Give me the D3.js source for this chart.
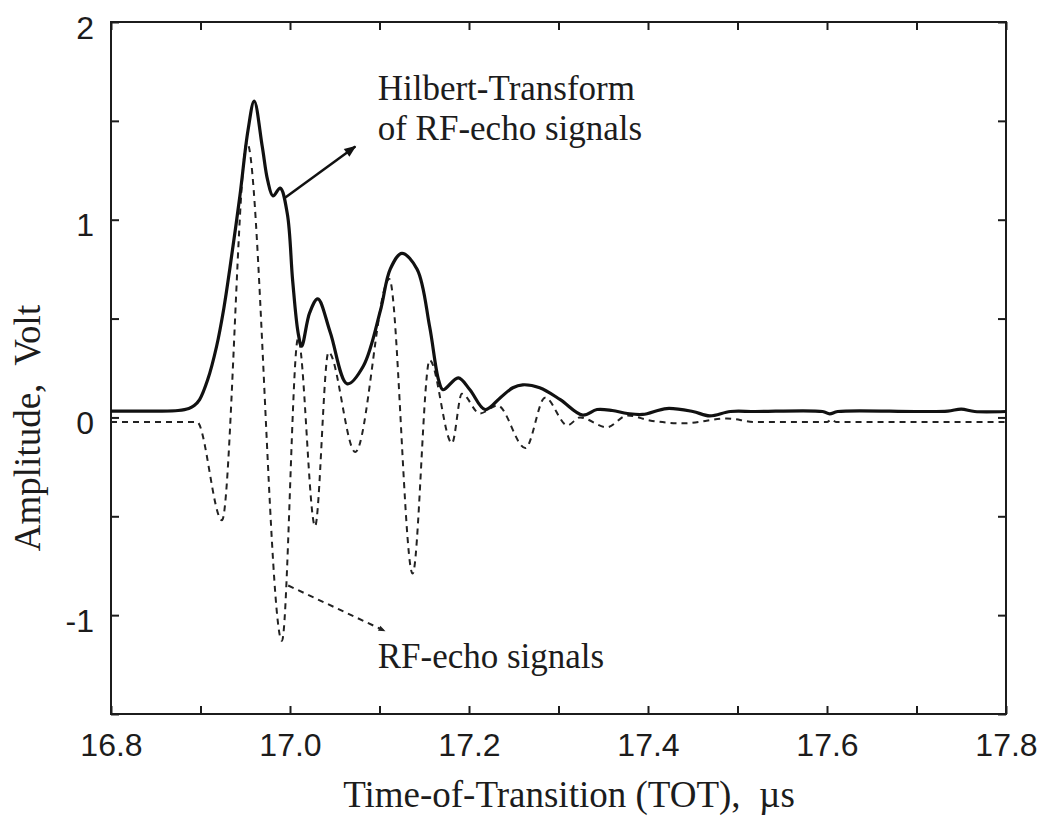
<!DOCTYPE html>
<html>
<head>
<meta charset="utf-8">
<script src="https://cdn.jsdelivr.net/npm/d3@7"></script>
<style>
  body { margin: 0; background: #fff; }
  svg { display: block; }
  text { white-space: pre; }
</style>
</head>
<body>
<div id="chart"></div>
<script>
// Hilbert transform envelope (solid line), time in µs / amplitude in V
const hilbertTime = [16.80, 16.85, 16.875, 16.887, 16.893, 16.899, 16.908, 16.918, 16.926, 16.933, 16.944, 16.953, 16.960,
  16.969, 16.975, 16.981, 16.989, 16.997, 17.003, 17.009, 17.013, 17.022, 17.031, 17.045, 17.064, 17.082, 17.101,
  17.112, 17.125, 17.142, 17.156, 17.166, 17.171, 17.188, 17.201, 17.218, 17.235, 17.249, 17.260, 17.279, 17.302,
  17.327, 17.343, 17.360, 17.377, 17.394, 17.421, 17.450, 17.469, 17.492, 17.52, 17.595, 17.603, 17.612, 17.70,
  17.735, 17.75, 17.765, 17.80];
const hilbertAmp = [0.032, 0.032, 0.035, 0.045, 0.06, 0.09, 0.19, 0.36, 0.55, 0.76, 1.12, 1.45, 1.60,
  1.37, 1.20, 1.12, 1.16, 1.03, 0.69, 0.43, 0.36, 0.53, 0.60, 0.43, 0.17, 0.26, 0.54,
  0.75, 0.83, 0.75, 0.46, 0.19, 0.14, 0.20, 0.14, 0.04, 0.10, 0.15, 0.165, 0.15, 0.09,
  0.012, 0.04, 0.035, 0.02, 0.015, 0.045, 0.03, 0.008, 0.03, 0.03, 0.03, 0.018, 0.03, 0.03,
  0.032, 0.042, 0.03, 0.03];

// RF echo signal (dashed line), read at its turning points
const rfTime = [16.80, 16.896, 16.924, 16.952, 16.991, 17.009, 17.028, 17.043, 17.073, 17.111, 17.137, 17.156,
  17.181, 17.192, 17.212, 17.232, 17.263, 17.285, 17.31, 17.324, 17.354, 17.377, 17.402, 17.44, 17.488,
  17.52, 17.60, 17.605, 17.61, 17.80];
const rfAmp = [-0.023, -0.023, -0.52, 1.39, -1.13, 0.40, -0.55, 0.33, -0.175, 0.70, -0.79, 0.29,
  -0.13, 0.12, 0.02, 0.06, -0.155, 0.10, -0.04, 0.0, -0.05, 0.01, -0.015, -0.03, -0.005,
  -0.023, -0.023, -0.01, -0.023, -0.023];

const xTicks = [16.8, 16.9, 17.0, 17.1, 17.2, 17.3, 17.4, 17.5, 17.6, 17.7, 17.8];
const xTickLabels = ["16.8", "", "17.0", "", "17.2", "", "17.4", "", "17.6", "", "17.8"];
const yTicks = [-1.5, -1, -0.5, 0, 0.5, 1, 1.5, 2];
const yTickLabels = ["", "-1", "", "0", "", "1", "", "2"];

const width = 1048, height = 817;
const margin = { top: 22, right: 42, bottom: 103, left: 111 };

const svg = d3.select("#chart").append("svg")
  .attr("width", width)
  .attr("height", height);

svg.append("rect").attr("width", width).attr("height", height).attr("fill", "#fff");

const x = d3.scaleLinear().domain([16.8, 17.8]).range([margin.left, width - margin.right]);
const y = d3.scaleLinear().domain([-1.5, 2]).range([height - margin.bottom, margin.top]);

const sans = "'Liberation Sans', Arial, Helvetica, sans-serif";
const serif = "'Liberation Serif', 'Times New Roman', Times, serif";
const ink = "#1c1c1c";

// axes, ticks pointing inward on all four sides
const axisB = svg.append("g")
  .attr("transform", `translate(0,${y.range()[0]})`)
  .call(d3.axisBottom(x).tickValues(xTicks).tickSize(-8).tickPadding(19)
    .tickFormat((d, i) => xTickLabels[i]));
const axisT = svg.append("g")
  .attr("transform", `translate(0,${y.range()[1]})`)
  .call(d3.axisTop(x).tickValues(xTicks).tickSize(-8).tickFormat(""));
const axisL = svg.append("g")
  .attr("transform", `translate(${x.range()[0]},0)`)
  .call(d3.axisLeft(y).tickValues(yTicks).tickSize(-8).tickPadding(17)
    .tickFormat((d, i) => yTickLabels[i]));
const axisR = svg.append("g")
  .attr("transform", `translate(${x.range()[1]},0)`)
  .call(d3.axisRight(y).tickValues(yTicks).tickSize(-8).tickFormat(""));

[axisB, axisT, axisL, axisR].forEach(g => {
  g.select(".domain").remove();
  g.selectAll(".tick line").attr("stroke", ink).attr("stroke-width", 2);
  g.selectAll("text").attr("fill", ink).style("font-family", sans).style("font-size", "32px");
});
axisL.selectAll("text").attr("dy", "0.5em");

// frame
svg.append("rect")
  .attr("x", x.range()[0])
  .attr("y", y.range()[1])
  .attr("width", x.range()[1] - x.range()[0])
  .attr("height", y.range()[0] - y.range()[1])
  .attr("fill", "none")
  .attr("stroke", ink)
  .attr("stroke-width", 2);

// curves
const rfLine = d3.line()
  .x(i => x(rfTime[i]))
  .y(i => y(rfAmp[i]))
  .curve(d3.curveMonotoneX);
svg.append("path")
  .attr("d", rfLine(d3.range(rfTime.length)))
  .attr("fill", "none")
  .attr("stroke", "#222")
  .attr("stroke-width", 2)
  .attr("stroke-dasharray", "6,5");

const hilbertLine = d3.line()
  .x(i => x(hilbertTime[i]))
  .y(i => y(hilbertAmp[i]))
  .curve(d3.curveCatmullRom.alpha(0.5));
svg.append("path")
  .attr("d", hilbertLine(d3.range(hilbertTime.length)))
  .attr("fill", "none")
  .attr("stroke", "#111")
  .attr("stroke-width", 3.2)
  .attr("stroke-linejoin", "round");

// arrow heads
const defs = svg.append("defs");
defs.append("marker")
  .attr("id", "head")
  .attr("viewBox", "0 0 10 10")
  .attr("refX", 9).attr("refY", 5)
  .attr("markerWidth", 16).attr("markerHeight", 12)
  .attr("markerUnits", "userSpaceOnUse")
  .attr("orient", "auto")
  .append("path").attr("d", "M0,1 L10,5 L0,9 Z").attr("fill", "#111");
defs.append("marker")
  .attr("id", "headSmall")
  .attr("viewBox", "0 0 10 10")
  .attr("refX", 9).attr("refY", 5)
  .attr("markerWidth", 9).attr("markerHeight", 7)
  .attr("markerUnits", "userSpaceOnUse")
  .attr("orient", "auto")
  .append("path").attr("d", "M0,1 L10,5 L0,9 Z").attr("fill", "#222");

// annotations
svg.append("line")
  .attr("x1", x(16.994)).attr("y1", y(1.11))
  .attr("x2", x(17.073)).attr("y2", y(1.37))
  .attr("stroke", "#111").attr("stroke-width", 2.5)
  .attr("marker-end", "url(#head)");

svg.append("line")
  .attr("x1", x(16.998)).attr("y1", y(-0.85))
  .attr("x2", x(17.106)).attr("y2", y(-1.08))
  .attr("stroke", "#222").attr("stroke-width", 2)
  .attr("stroke-dasharray", "6,5")
  .attr("marker-end", "url(#headSmall)");

const note = svg.append("text")
  .attr("fill", ink)
  .style("font-family", serif)
  .style("font-size", "35px");
note.append("tspan").attr("x", x(17.098)).attr("y", y(1.605)).text("Hilbert-Transform");
note.append("tspan").attr("x", x(17.098)).attr("y", y(1.405)).text("of RF-echo signals");

svg.append("text")
  .attr("x", x(17.098))
  .attr("y", y(-1.265))
  .attr("fill", ink)
  .style("font-family", serif)
  .style("font-size", "35px")
  .text("RF-echo signals");

// axis titles
svg.append("text")
  .attr("x", 569)
  .attr("y", 807)
  .attr("text-anchor", "middle")
  .attr("fill", ink)
  .style("font-family", serif)
  .style("font-size", "37px")
  .text("Time-of-Transition (TOT),  \u00b5s");

svg.append("text")
  .attr("transform", "translate(40,428) rotate(-90)")
  .attr("text-anchor", "middle")
  .attr("fill", ink)
  .style("font-family", serif)
  .style("font-size", "37px")
  .text("Amplitude,  Volt");
</script>
</body>
</html>
